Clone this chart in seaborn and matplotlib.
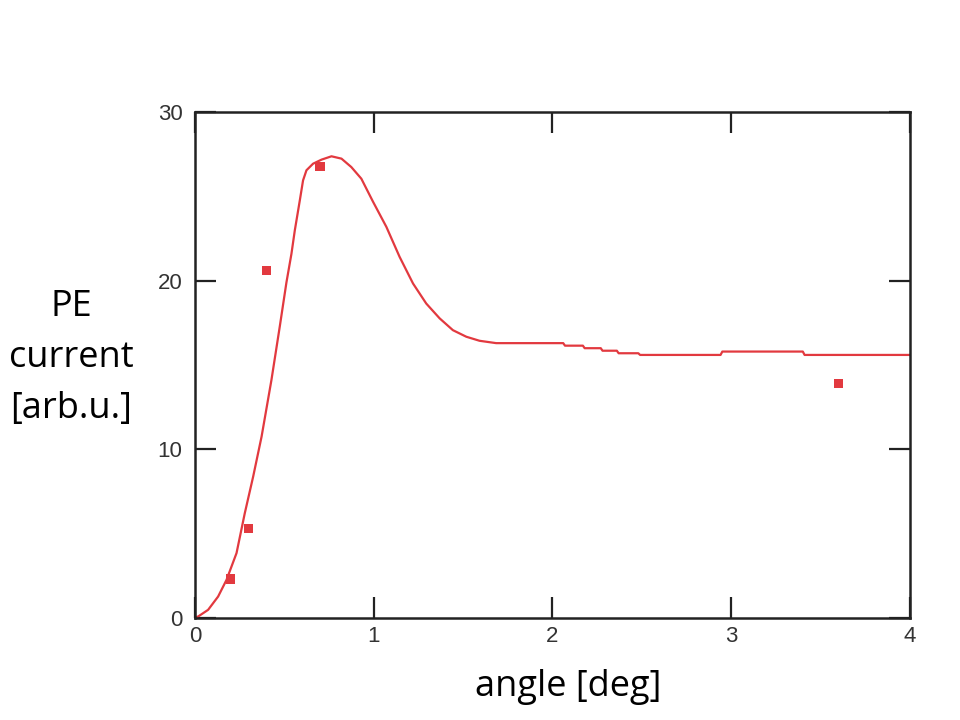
import matplotlib
matplotlib.use('agg')
import matplotlib.pyplot as plt
import seaborn as sns
import pandas as pd

# measured points
angle_pts = [0.2, 0.3, 0.4, 0.7, 3.6]
current_pts = [2.3, 5.3, 20.6, 26.8, 13.9]

# model curve
curve_angle = [0.0, 0.019, 0.074, 0.13, 0.177, 0.233, 0.279, 0.326, 0.373, 0.428,
               0.475, 0.512, 0.540, 0.559, 0.587, 0.605, 0.624, 0.661, 0.708, 0.764,
               0.82, 0.875, 0.931, 0.996, 1.071, 1.145, 1.22, 1.294, 1.369, 1.443,
               1.518, 1.592, 1.685, 2.06, 2.07, 2.17, 2.18, 2.27, 2.28, 2.36,
               2.37, 2.48, 2.49, 2.94, 2.95, 3.40, 3.41, 4.0]
curve_current = [0.0, 0.08, 0.47, 1.26, 2.25, 3.84, 6.2, 8.38, 10.75, 14.1,
                 17.3, 19.9, 21.6, 23.0, 24.78, 25.96, 26.56, 26.95, 27.19, 27.39,
                 27.25, 26.75, 26.06, 24.7, 23.2, 21.42, 19.84, 18.65, 17.77, 17.07,
                 16.68, 16.44, 16.3, 16.3, 16.15, 16.15, 16.0, 16.0, 15.85, 15.85,
                 15.7, 15.7, 15.6, 15.6, 15.8, 15.8, 15.6, 15.6]

red = '#e2393f'

sns.set_style('white')
plt.rcParams['font.family'] = ['Open Sans', 'DejaVu Sans']

fig = plt.figure(figsize=(9.6, 7.2), dpi=100)
ax = fig.add_axes([0.203, 0.142, 0.745, 0.702])

curve = pd.DataFrame({'angle': curve_angle, 'current': curve_current})
pts = pd.DataFrame({'angle': angle_pts, 'current': current_pts})

sns.lineplot(data=curve, x='angle', y='current', sort=False, estimator=None,
             color=red, linewidth=1.6, ax=ax)
sns.scatterplot(data=pts, x='angle', y='current', marker='s', s=45,
                color=red, edgecolor='none', ax=ax, zorder=3)

ax.set_xlim(0, 4)
ax.set_ylim(0, 30)
ax.set_xticks([0, 1, 2, 3, 4])
ax.set_yticks([0, 10, 20, 30])
ax.set_xlabel('')
ax.set_ylabel('')
for s in ax.spines.values():
    s.set_color('#222222')
    s.set_linewidth(1.8)
ax.tick_params(direction='in', length=15, width=1.6, color='#222222',
               top=True, right=True, bottom=True, left=True,
               labelsize=16, labelcolor='#333333')
ax.tick_params(axis='x', pad=6)
ax.tick_params(axis='y', pad=9)
for lab in ax.get_xticklabels() + ax.get_yticklabels():
    lab.set_family(['Liberation Sans', 'DejaVu Sans'])

fig.text(0.592, 0.046, 'angle [deg]', ha='center', va='center', fontsize=26,
         color='black')
fig.text(0.074, 0.503, 'PE\ncurrent\n[arb.u.]', ha='center', va='center',
         fontsize=26, linespacing=1.55, color='black')

plt.savefig('out.png', dpi=100)
plt.close(fig)
